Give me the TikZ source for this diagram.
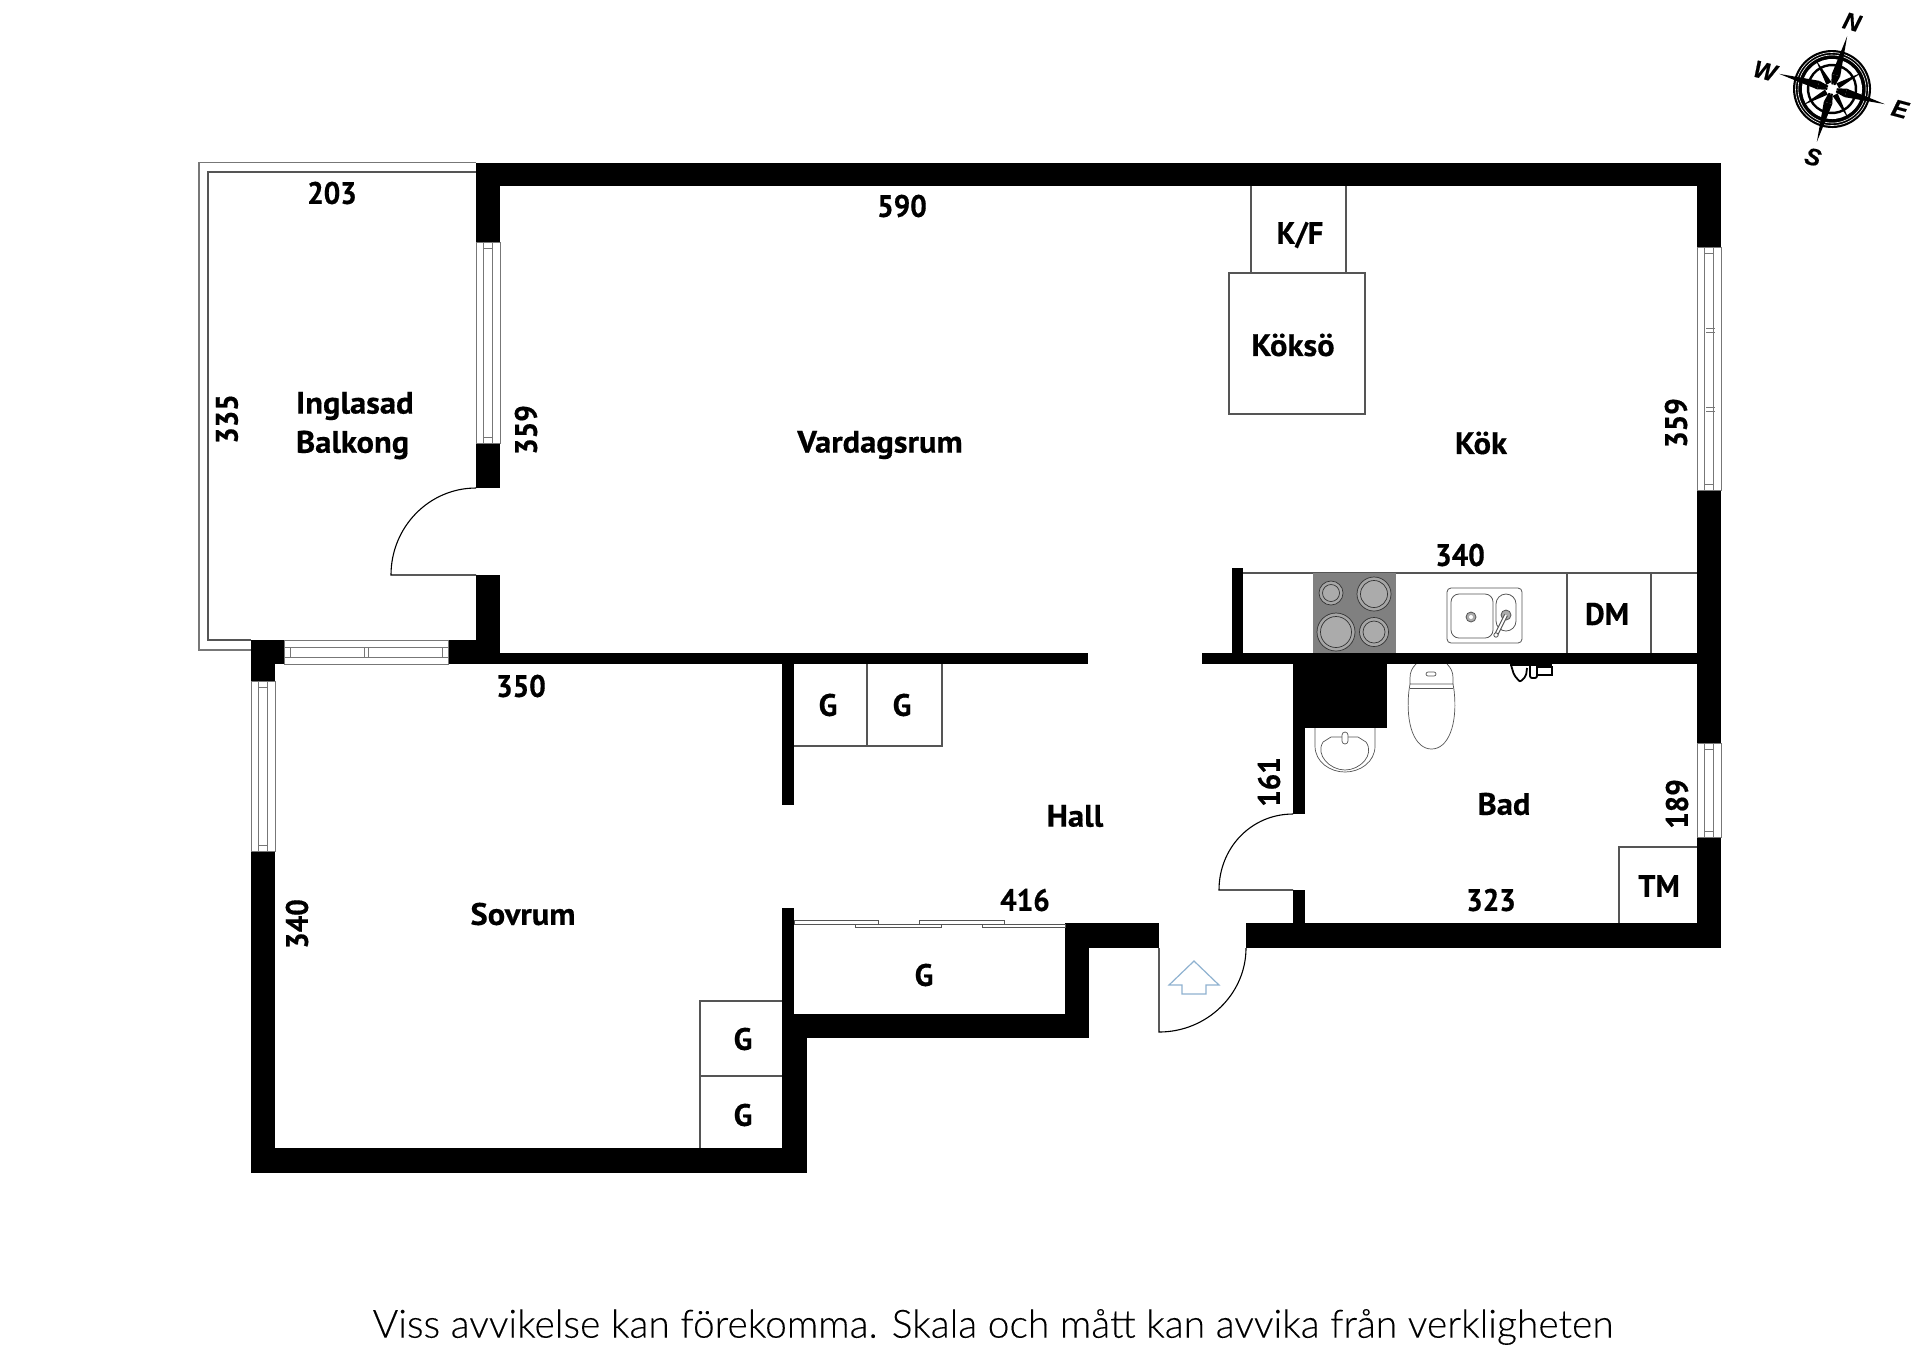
\documentclass[tikz,border=0pt]{standalone}
\usepackage{fontspec}
\setmainfont{PT Sans}
\newfontfamily\labfont[FakeStretch=1.05,FakeBold=0.5]{PT Sans Bold}
\newfontfamily\numfont[FakeStretch=0.94,FakeBold=0.5]{PT Sans Bold}
\newfontfamily\capfont[FakeStretch=0.98,FakeBold=0.5]{PT Sans Bold}
\newfontfamily\footfont[FakeBold=0.2]{Lato Light}
\newfontfamily\compfont[FakeBold=0.6]{Liberation Sans Bold Italic}
\definecolor{ln}{HTML}{555555}
\definecolor{wn}{HTML}{777777}
\definecolor{hob}{HTML}{808080}
\definecolor{burn}{HTML}{ABABAB}
\definecolor{arw}{HTML}{8FB2D0}
\newcommand{\wall}[4]{\fill[black] (#1,#2) rectangle (#3,#4);}
\newcommand{\vwin}[4]{%
  \draw[wn,line width=.5pt,fill=white] (#1,#3) rectangle (#2,#4);
  \draw[wn,line width=.4pt] ({#1+0.3*(#2-#1)},#3) -- ({#1+0.3*(#2-#1)},#4)
     ({#1+0.7*(#2-#1)},#3) -- ({#1+0.7*(#2-#1)},#4)
     ({#1+0.3*(#2-#1)},#3+6) -- ({#1+0.7*(#2-#1)},#3+6)
     ({#1+0.3*(#2-#1)},#4-6) -- ({#1+0.7*(#2-#1)},#4-6);}
\tikzset{
  x=0.5pt,y=-0.5pt,
  lab/.style={font=\labfont\fontsize{15.5}{18}\selectfont,inner sep=0,outer sep=0,text=black,align=left},
  numlab/.style={font=\numfont\fontsize{15.5}{18}\selectfont,inner sep=0,outer sep=0,text=black},
  caplab/.style={font=\capfont\fontsize{15.5}{18}\selectfont,inner sep=0,outer sep=0,text=black},
  complab/.style={inner sep=0,rotate=-15,font=\compfont\fontsize{12}{14}\selectfont},
  fitline/.style={draw=ln,line width=.6pt},
  thinfix/.style={draw=ln,line width=.4pt},
  doorline/.style={draw=black,line width=.55pt},
}
\begin{document}
\begin{tikzpicture}
\useasboundingbox (0,0) rectangle (1920,1357);
\fill[white] (0,0) rectangle (1920,1357);
% balcony
\draw[wn,line width=.6pt] (476,162.5) -- (199,162.5) -- (199,650) -- (251,650);
\draw[ln,line width=.6pt] (476,172) -- (208,172) -- (208,640) -- (251,640);
% walls
\wall{476}{162.5}{1721}{186}
\wall{476}{162.5}{500}{242}
\wall{476}{443}{500}{488}
\wall{476}{575}{500}{664}
\wall{448}{640}{500}{664}
\wall{500}{653}{1088}{664}
\wall{251}{640}{284}{664}
\wall{251}{640}{275}{681}
\wall{251}{851}{275}{1173}
\wall{251}{1148}{807}{1173}
\wall{782}{1014}{807}{1173}
\wall{782}{1014}{1089}{1038}
\wall{1065}{923}{1089}{1038}
\wall{1065}{923}{1159}{948}
\wall{782}{664}{794}{805}
\wall{782}{908}{794}{1014}
\wall{1202}{653}{1697}{664}
\wall{1232}{568}{1243}{653}
\wall{1293}{664}{1387}{728}
\wall{1293}{664}{1305}{814}
\wall{1293}{890}{1305}{923}
\wall{1246}{923}{1721}{948}
\wall{1697}{162.5}{1721}{247}
\wall{1697}{490}{1721}{743}
\wall{1697}{837}{1721}{948}
% windows
\vwin{476}{500}{242}{443}
\vwin{1697}{1721}{247}{490}
\draw[wn,line width=.4pt] (1706,328) -- (1715,328) (1706,332) -- (1715,332) (1706,407) -- (1715,407) (1706,411) -- (1715,411);
\vwin{1697}{1721}{743}{837}
\vwin{251}{275}{681}{851}
\draw[wn,line width=.5pt,fill=white] (284,640) rectangle (448,664);
\draw[wn,line width=.4pt] (284,647) -- (448,647) (284,657) -- (448,657) (290,647) -- (290,657) (442,647) -- (442,657) (364,647) -- (364,657) (368,647) -- (368,657);
% doors
\draw[doorline] (476,488) .. controls (429,488) and (391,527) .. (391,575) -- (476,575);
\draw[doorline] (1293,814) .. controls (1251,814) and (1219,848) .. (1219,890) -- (1293,890);
\draw[doorline] (1246,948) .. controls (1246,994) and (1207,1032) .. (1159,1032) -- (1159,948);
% entry arrow
\draw[arw,line width=.6pt] (1194,961) -- (1219,985) -- (1206,985) -- (1206,994) -- (1182,994) -- (1182,985) -- (1169,985) -- cycle;
% fixtures
\draw[fitline] (867,664) -- (867,746) (794,746) -- (942,746) -- (942,664);
\draw[fitline] (700,1148) -- (700,1001) -- (782,1001) (700,1076) -- (782,1076);
\draw[thinfix,fill=white] (794,920) rectangle (878,924);
\draw[thinfix,fill=white] (855,924) rectangle (941,927);
\draw[thinfix,fill=white] (919,920) rectangle (1004,924);
\draw[thinfix,fill=white] (982,924) rectangle (1065,927);
\draw[thinfix] (878,924) -- (919,924) (1004,924) -- (1065,924);
\draw[fitline] (1251,186) -- (1251,273) (1346,186) -- (1346,273);
\draw[fitline] (1229,273) rectangle (1365,414);
\draw[fitline] (1243,573) -- (1697,573) (1567,573) -- (1567,653) (1651,573) -- (1651,653);
\draw[fitline] (1619,923) -- (1619,847) -- (1697,847);
% hob
\fill[hob] (1313,573) rectangle (1396,653);
\foreach \cx/\cy/\r in {1331/593/12,1374/594/17,1336/632/19,1374/632/14.5}{
  \draw[black!80,line width=.35pt,fill=hob!70] (\cx,\cy) circle[radius=\r];
  \draw[black!80,line width=.35pt,fill=burn] (\cx,\cy) circle[radius=\r-3.5];
}
% kitchen sink
\draw[ln,line width=.4pt,rounded corners=2pt] (1447,588) rectangle (1522,643);
\draw[ln,line width=.4pt,rounded corners=4pt] (1451,594) rectangle (1493,638);
\draw[ln,line width=.4pt,rounded corners=5pt] (1496,594) rectangle (1516,631);
\draw[ln,line width=.4pt,fill=burn] (1471,617) circle[radius=5];
\fill[white] (1471,617) circle[radius=2];
\draw[ln,line width=.4pt,fill=burn] (1506,615) circle[radius=5];
\draw[ln,line width=2pt] (1506,615) -- (1496,635);
\draw[white,line width=.9pt] (1506,615) -- (1496,635);
\draw[ln,line width=.4pt,fill=white] (1496,635) circle[radius=2.2];
% toilet
\draw[ln,line width=.35pt] (1416,664) .. controls (1412,668) and (1410,672) .. (1410,678) -- (1410,684) -- (1453,684) -- (1453,678) .. controls (1453,672) and (1451,668) .. (1447,664);
\draw[ln,line width=.35pt] (1410,684) -- (1409,690) .. controls (1405,725) and (1415,749) .. (1431.5,749) .. controls (1448,749) and (1458,725) .. (1454,690) -- (1453,684);
\draw[ln,line width=.35pt] (1410,688) -- (1453,688);
\draw[ln,line width=.35pt,rounded corners=1pt] (1426,672) rectangle (1436,676);
% bath sink
\draw[ln,line width=.35pt] (1315,728) -- (1315,746) .. controls (1315,762) and (1330,772) .. (1345,772) .. controls (1360,772) and (1375,762) .. (1375,746) -- (1375,728);
\draw[ln,line width=.35pt] (1331,737) -- (1323,742) .. controls (1315,755) and (1330,770) .. (1345,770) .. controls (1360,770) and (1375,755) .. (1366,742) -- (1358,737) -- cycle;
\draw[ln,line width=.35pt,fill=white,rounded corners=1.5pt] (1342,732) rectangle (1348,744);
% bath faucet
\fill[black] (1510,664) rectangle (1552,666);
\draw[black,line width=.9pt,rounded corners=1pt] (1511,665) -- (1514,675) -- (1520,682) -- (1526,676) -- (1527,668);
\draw[black,line width=.9pt,rounded corners=1pt] (1530,665) -- (1530,678) -- (1537,678) -- (1537,665);
\draw[black,line width=.7pt] (1537,667) -- (1552,667) -- (1552,675) -- (1537,675);
% labels
\node[numlab] (n203) at (332,193) {203};
\node[numlab] (n590) at (902,206) {590};
\node[numlab,rotate=90] (n335) at (227,419) {335};
\node[numlab,rotate=90] (n359a) at (526,430) {359};
\node[lab,anchor=west] (ingl) at (296,406) {Inglasad};
\node[lab,anchor=west] (balk) at (296,445) {Balkong};
\node[lab] (vard) at (880,445) {Vardagsrum};
\node[caplab] (kf) at (1300,235) {K/F};
\node[lab] (koks) at (1293,345) {Köksö};
\node[lab] (kok) at (1481,443) {Kök};
\node[numlab,rotate=90] (n359b) at (1676,423) {359};
\node[numlab] (n340a) at (1460,555) {340};
\node[caplab] (dm) at (1607,614) {DM};
\node[numlab] (n350) at (521,686) {350};
\node[caplab] (g1) at (828,705) {G};
\node[caplab] (g2) at (902,705) {G};
\node[lab] (hall) at (1075,816) {Hall};
\node[numlab,rotate=90] (n161) at (1269,782) {161};
\node[lab] (bad) at (1504,804) {Bad};
\node[numlab,rotate=90] (n189) at (1677,804) {189};
\node[numlab] (n416) at (1025,900) {416};
\node[numlab] (n323) at (1491,900) {323};
\node[caplab] (tm) at (1659,886) {TM};
\node[numlab,rotate=90] (n340b) at (297,924) {340};
\node[lab] (sov) at (523,914) {Sovrum};
\node[caplab] (g3) at (924,975) {G};
\node[caplab] (g4) at (743,1039) {G};
\node[caplab] (g5) at (743,1115) {G};
\node[inner sep=0,outer sep=0] (foot) at (993,1327) {\footfont\fontsize{19.5}{22}\selectfont Viss avvikelse kan förekomma. Skala och mått kan avvika från verkligheten};
% compass
\begin{scope}[shift={(1832,89)},rotate=-16]
  \fill[black] (0,0) circle[radius=39];
  \draw[white,line width=.3pt] (0,0) circle[radius=36.5] (0,0) circle[radius=34];
  \fill[white] (0,0) circle[radius=30];
  \draw[black,line width=1.2pt] (0,0) circle[radius=24];
  \foreach \a in {45,135,225,315}{
    \fill[black] (\a:34) -- (\a+24:7) -- (\a-24:7) -- cycle;
  }
  \foreach \a in {0,90,180,270}{
    \fill[black] (\a:55) -- (\a+17:15) -- (\a-17:15) -- cycle;
    \fill[black] (\a+17:15) -- (\a+25:5) -- (\a-25:5) -- (\a-17:15) -- cycle;
  }
  \foreach \a in {0,45,...,315}{\fill[white] (\a:6) -- (\a+40:1) -- (\a-40:1) -- cycle;}
\end{scope}
\node[complab] (cn) at (1852,22) {N};
\node[complab] (ce) at (1900,109) {E};
\node[complab] (cs) at (1813,157) {S};
\node[complab] (cw) at (1765,71) {W};
\end{tikzpicture}
\end{document}
